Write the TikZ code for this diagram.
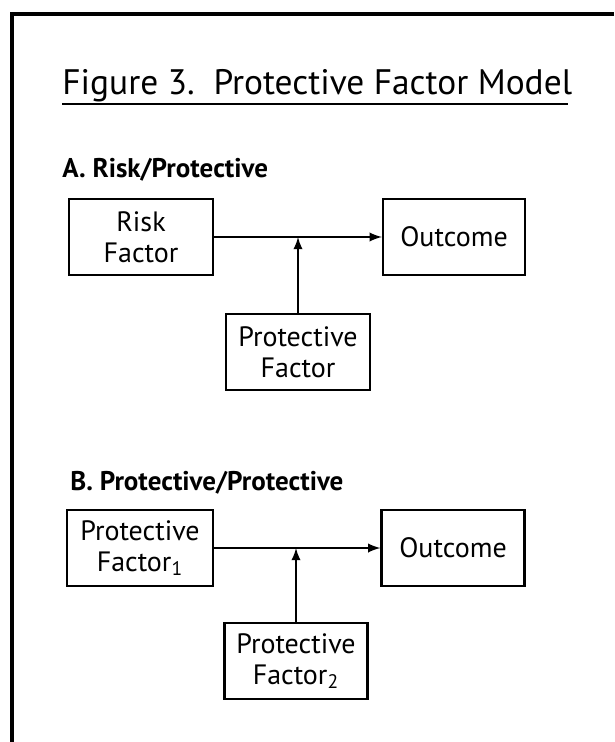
\documentclass[tikz,border=0pt]{standalone}
\usepackage{fontspec}
\setmainfont{PT Sans}
\begin{document}
\begin{tikzpicture}[x=0.5pt, y=-0.5pt,
    box/.style={draw, line width=1.2pt, minimum width=72pt, minimum height=38pt, align=center, inner sep=2pt, font=\fontsize{14}{15.5}\selectfont},
    heading/.style={anchor=base west, inner sep=0pt, font=\fontsize{13.5}{15}\selectfont\bfseries},
    link/.style={->, -latex, line width=1.1pt}]
    \useasboundingbox (0,0) rectangle (614,742);
    \draw[line width=1.8pt] (614,14) -- (12,14) -- (12,742);

    % title
    \node[anchor=base west, inner sep=0pt, font=\fontsize{17.7}{20}\selectfont] (title) at (62,95) {Figure 3.\ \ Protective Factor Model};
    \draw[line width=1.1pt] ([yshift=-4.5pt]title.base west) -- ([yshift=-4.5pt,xshift=-2.5pt]title.base east);

    % A
    \node[heading] (headA) at (62,178) {A. Risk/Protective};
    \node[box] (riskA) at (141,237) {Risk\\Factor};
    \node[box, minimum width=71pt] (outA) at (454,237) {Outcome};
    \node[box] (protA) at (298,352) {Protective\\Factor};
    \draw[link] (riskA) -- (outA);
    \draw[link] (protA) -- (protA.north |- riskA.east);

    % B
    \node[heading] (headB) at (70,490) {B. Protective/Protective};
    \node[box, minimum width=73pt] (protB1) at (140,548) {Protective\\Factor\textsubscript{1}};
    \node[box, minimum width=71.5pt] (outB) at (453,548) {Outcome};
    \node[box, minimum width=71.5pt] (protB2) at (296,661) {Protective\\Factor\textsubscript{2}};
    \draw[link] (protB1) -- (outB);
    \draw[link] (protB2) -- (protB2.north |- protB1.east);
\end{tikzpicture}
\end{document}
